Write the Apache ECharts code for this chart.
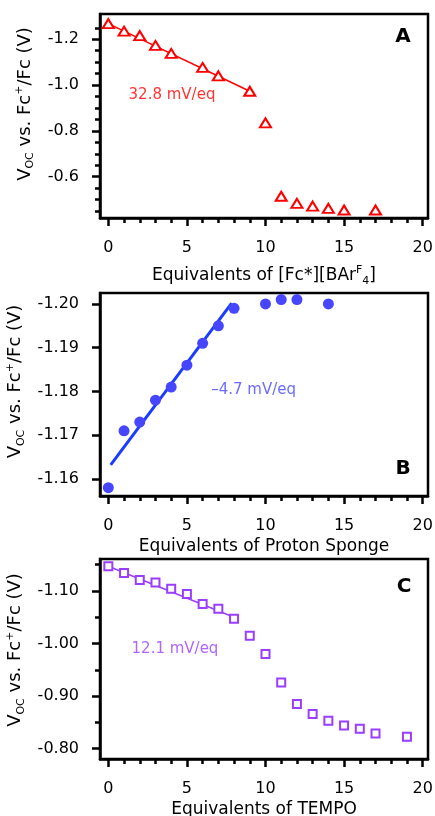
<!DOCTYPE html>
<html>
<head>
<meta charset="utf-8">
<script src="https://cdn.jsdelivr.net/npm/echarts@6/dist/echarts.min.js"></script>
<style>
html,body{margin:0;padding:0;background:#fff;}
#chart{width:435px;height:816px;}
</style>
</head>
<body>
<div id="chart"></div>
<script>
// ---- data ----
const eqA = [0, 1, 2, 3, 4, 6, 7, 9, 10, 11, 12, 13, 14, 15, 17];
const vocA = [-1.268, -1.235, -1.216, -1.173, -1.138, -1.077, -1.040, -0.973, -0.835, -0.515, -0.484, -0.472, -0.462, -0.455, -0.455];
const fitAx = [0, 9];
const fitAy = [-1.268, -0.973];

const eqB = [0, 1, 2, 3, 4, 5, 6, 7, 8, 10, 11, 12, 14];
const vocB = [-1.158, -1.171, -1.173, -1.178, -1.181, -1.186, -1.191, -1.195, -1.199, -1.200, -1.201, -1.201, -1.200];
const fitBx = [0.15, 7.85];
const fitBy = [-1.1632, -1.2002];

const eqC = [0, 1, 2, 3, 4, 5, 6, 7, 8, 9, 10, 11, 12, 13, 14, 15, 16, 17, 19];
const vocC = [-1.147, -1.134, -1.121, -1.116, -1.104, -1.094, -1.075, -1.066, -1.047, -1.015, -0.980, -0.926, -0.885, -0.866, -0.853, -0.844, -0.838, -0.829, -0.823];
const fitCx = [0, 8];
const fitCy = [-1.147, -1.050];

// ---- ticks ----
const xMajor = [0, 5, 10, 15, 20];
const xMinor = [0, 1, 2, 3, 4, 5, 6, 7, 8, 9, 10, 11, 12, 13, 14, 15, 16, 17, 18, 19, 20];
const yMajorA = [-1.2, -1.0, -0.8, -0.6];
const yMinorA = [-1.25, -1.15, -1.1, -1.05, -0.95, -0.9, -0.85, -0.75, -0.7, -0.65, -0.55, -0.5, -0.45];
const yMajorB = [-1.20, -1.19, -1.18, -1.17, -1.16];
const yMajorC = [-1.10, -1.00, -0.90, -0.80];
const yMinorC = [-1.15, -1.05, -0.95, -0.85];

const xTitles = [
  '{m|Equivalents of [Fc*][BAr}{sup|F}{sub|4}{m|]}',
  '{m|Equivalents of Proton Sponge}',
  '{m|Equivalents of TEMPO}'
];
const yTitle = '{m|V}{sub|OC}{m| vs. Fc}{sup|+}{m|/Fc (V)}';

const FONT = 'DejaVu Sans';
const grids = [
  {left: 100, top: 14, width: 328, height: 204},
  {left: 100, top: 293, width: 328, height: 203},
  {left: 100, top: 559, width: 328, height: 200}
];
const xRange = [-0.53, 20.34];
const yRanges = [[-1.31, -0.42], [-1.2025, -1.1561], [-1.1607, -0.7805]];
const yDecimals = [1, 2, 2];
const yMajors = [yMajorA, yMajorB, yMajorC];
const yMinors = [yMinorA, [], yMinorC];
const xNameGaps = [47, 40, 40];
const yNameShift = [24, 26, 18];

function richName(sz) {
  return {
    m: {fontSize: sz, fontFamily: FONT, color: '#000', lineHeight: 22},
    sub: {fontSize: 11, fontFamily: FONT, color: '#000', lineHeight: 11, verticalAlign: 'bottom'},
    sup: {fontSize: 11, fontFamily: FONT, color: '#000', lineHeight: 11, verticalAlign: 'top'}
  };
}

const xAxes = [], yAxes = [];
for (let i = 0; i < 3; i++) {
  xAxes.push({
    gridIndex: i, type: 'value', min: xRange[0], max: xRange[1], position: 'bottom',
    axisLine: {show: true, onZero: false, lineStyle: {color: '#000', width: 2.5}},
    axisTick: {show: true, customValues: xMajor, length: 8, lineStyle: {color: '#000', width: 2.5}},
    axisLabel: {customValues: xMajor, margin: 22, fontSize: 16, fontFamily: FONT, color: '#000'},
    splitLine: {show: false},
    name: xTitles[i], nameLocation: 'middle', nameGap: xNameGaps[i],
    nameTextStyle: {rich: richName(17)}
  });
  xAxes.push({
    gridIndex: i, type: 'value', min: xRange[0], max: xRange[1], position: 'bottom',
    axisLine: {show: false, onZero: false},
    axisTick: {show: true, customValues: xMinor, length: 5, lineStyle: {color: '#000', width: 2.5}},
    axisLabel: {show: false},
    splitLine: {show: false}
  });
  const d = yDecimals[i];
  yAxes.push({
    gridIndex: i, type: 'value', inverse: true, min: yRanges[i][0], max: yRanges[i][1], position: 'left',
    axisLine: {show: true, onZero: false, lineStyle: {color: '#000', width: 2.5}},
    axisTick: {show: true, customValues: yMajors[i], length: 8, lineStyle: {color: '#000', width: 2.5}},
    axisLabel: {customValues: yMajors[i], margin: 21, fontSize: 16, fontFamily: FONT, color: '#000',
      formatter: v => Number(v).toFixed(d)},
    splitLine: {show: false},
    name: yTitle, nameLocation: 'middle', nameRotate: 90, nameGap: 64,
    nameTextStyle: {rich: richName(18), padding: [0, 0, 0, yNameShift[i]]}
  });
  yAxes.push({
    gridIndex: i, type: 'value', inverse: true, min: yRanges[i][0], max: yRanges[i][1], position: 'left',
    axisLine: {show: false, onZero: false},
    axisTick: {show: yMinors[i].length > 0, customValues: yMinors[i].length ? yMinors[i] : [yRanges[i][0]], length: 5, lineStyle: {color: '#000', width: 2.5}},
    axisLabel: {show: false},
    splitLine: {show: false}
  });
}

const pairs = (xs, ys) => xs.map((x, i) => [x, ys[i]]);

const RED = '#ff0000', BLUE_PT = '#4646ff', BLUE_LN = '#1a3cff', PURP = '#9b3dff';

function note(gi, coord, text, color) {
  return {
    type: 'scatter', xAxisIndex: gi * 2, yAxisIndex: gi * 2, silent: true,
    symbolSize: 1, itemStyle: {color: 'rgba(0,0,0,0)'},
    data: [coord],
    label: {show: true, position: 'inside', formatter: text, color: color, fontSize: 15, fontFamily: FONT},
    z: 5
  };
}

const series = [
  {type: 'line', xAxisIndex: 0, yAxisIndex: 0, data: pairs(fitAx, fitAy), symbol: 'none',
   lineStyle: {color: RED, width: 1.5}, z: 2, silent: true},
  {type: 'scatter', xAxisIndex: 0, yAxisIndex: 0, data: pairs(eqA, vocA), symbol: 'triangle', symbolSize: [11, 9],
   itemStyle: {color: '#fff', borderColor: RED, borderWidth: 2, opacity: 1}, z: 3},
  note(0, [4.05, -0.956], '32.8 mV/eq', RED),

  {type: 'line', xAxisIndex: 2, yAxisIndex: 2, data: pairs(fitBx, fitBy), symbol: 'none',
   lineStyle: {color: BLUE_LN, width: 3}, z: 2, silent: true},
  {type: 'scatter', xAxisIndex: 2, yAxisIndex: 2, data: pairs(eqB, vocB), symbol: 'circle', symbolSize: 11,
   itemStyle: {color: BLUE_PT, opacity: 1}, z: 3},
  note(1, [9.24, -1.1802], '\u20134.7 mV/eq', BLUE_PT),

  {type: 'line', xAxisIndex: 4, yAxisIndex: 4, data: pairs(fitCx, fitCy), symbol: 'none',
   lineStyle: {color: PURP, width: 1.5}, z: 2, silent: true},
  {type: 'scatter', xAxisIndex: 4, yAxisIndex: 4, data: pairs(eqC, vocC), symbol: 'rect', symbolSize: 8,
   itemStyle: {color: '#fff', borderColor: PURP, borderWidth: 2, opacity: 1}, z: 3},
  note(2, [4.24, -0.989], '12.1 mV/eq', PURP)
];

const chart = echarts.init(document.getElementById('chart'), null, {renderer: 'canvas'});
chart.setOption({
  animation: false,
  backgroundColor: '#fff',
  grid: grids.map(g => Object.assign({show: true, borderColor: '#000', borderWidth: 2.5, backgroundColor: 'transparent', containLabel: false, outerBoundsMode: 'none'}, g)),
  xAxis: xAxes,
  yAxis: yAxes,
  series: series,
  graphic: [
    {type: 'text', x: 403, y: 37, style: {text: 'A', font: 'bold 20px "DejaVu Sans"', fill: '#000', textAlign: 'center', textVerticalAlign: 'middle'}},
    {type: 'text', x: 403, y: 469, style: {text: 'B', font: 'bold 20px "DejaVu Sans"', fill: '#000', textAlign: 'center', textVerticalAlign: 'middle'}},
    {type: 'text', x: 404, y: 587, style: {text: 'C', font: 'bold 20px "DejaVu Sans"', fill: '#000', textAlign: 'center', textVerticalAlign: 'middle'}}
  ]
});
</script>
</body>
</html>
